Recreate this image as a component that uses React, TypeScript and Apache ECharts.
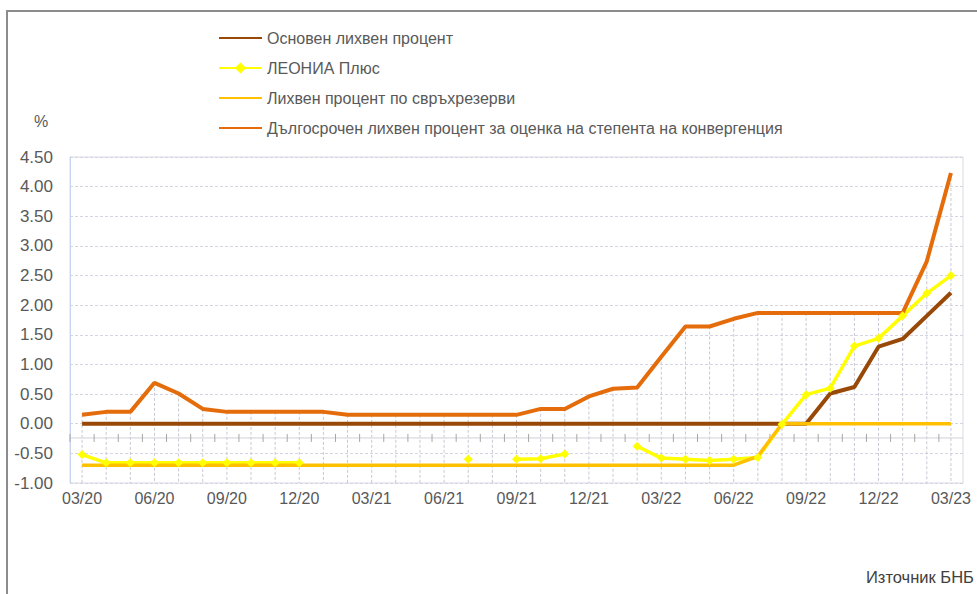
import React, { useEffect, useRef } from 'react';
import * as echarts from 'echarts';

const categories = [
  '03/20', '04/20', '05/20', '06/20', '07/20', '08/20', '09/20', '10/20', '11/20', '12/20',
  '01/21', '02/21', '03/21', '04/21', '05/21', '06/21', '07/21', '08/21', '09/21', '10/21', '11/21', '12/21',
  '01/22', '02/22', '03/22', '04/22', '05/22', '06/22', '07/22', '08/22', '09/22', '10/22', '11/22', '12/22',
  '01/23', '02/23', '03/23',
];

const baseRate = [
  0, 0, 0, 0, 0, 0, 0, 0, 0, 0,
  0, 0, 0, 0, 0, 0, 0, 0, 0, 0, 0, 0,
  0, 0, 0, 0, 0, 0, 0, 0, 0, 0.51, 0.62, 1.30,
  1.43, 1.82, 2.21,
];

const leoniaPlus = [
  -0.52, -0.66, -0.66, -0.66, -0.66, -0.66, -0.66, -0.66, -0.66, -0.66,
  null, null, null, null, null, null, -0.60, null, -0.60, -0.59, -0.51, null,
  null, -0.38, -0.58, -0.60, -0.62, -0.60, -0.57, -0.01, 0.49, 0.60, 1.31, 1.44,
  1.82, 2.20, 2.50,
];

const excessReserves = [
  -0.70, -0.70, -0.70, -0.70, -0.70, -0.70, -0.70, -0.70, -0.70, -0.70,
  -0.70, -0.70, -0.70, -0.70, -0.70, -0.70, -0.70, -0.70, -0.70, -0.70, -0.70, -0.70,
  -0.70, -0.70, -0.70, -0.70, -0.70, -0.70, -0.55, 0, 0, 0, 0, 0,
  0, 0, 0,
];

const longTermRate = [
  0.15, 0.20, 0.20, 0.69, 0.51, 0.25, 0.20, 0.20, 0.20, 0.20,
  0.20, 0.15, 0.15, 0.15, 0.15, 0.15, 0.15, 0.15, 0.15, 0.25, 0.25, 0.46,
  0.59, 0.61, 1.13, 1.64, 1.64, 1.77, 1.87, 1.87, 1.87, 1.87, 1.87, 1.87,
  1.87, 2.74, 4.23,
];

const seriesNames = [
  'Основен лихвен процент',
  'ЛЕОНИА Плюс',
  'Лихвен процент по свръхрезерви',
  'Дългосрочен лихвен процент за оценка на степента на конвергенция',
];

const yMin = -1;
const yMax = 4.5;
const yStep = 0.5;
// value at which the category axis line crosses the value axis
const axisCross = -0.24;

const FONT = '"Liberation Sans", Arial, sans-serif';

export default function App() {
  const ref = useRef<HTMLDivElement>(null);

  useEffect(() => {
    if (!ref.current) return;
    const chart = echarts.init(ref.current, undefined, { renderer: 'svg' });

    const dropData = categories.map((_, i) => {
      const vals = [baseRate[i], leoniaPlus[i], excessReserves[i], longTermRate[i]].filter(
        (v) => v !== null && v !== undefined
      ) as number[];
      return [i, Math.max(...vals)];
    });
    const axisData = categories.map((_, i) => [i, axisCross]);

    const option: any = {
      animation: false,
      backgroundColor: '#ffffff',
      textStyle: { fontFamily: FONT },
      grid: {
        left: 70,
        right: 14,
        top: 157,
        bottom: 111,
        show: true,
        borderColor: '#D9D9E3',
        borderWidth: 1,
      },
      legend: {
        orient: 'vertical',
        left: 213,
        top: 25,
        itemWidth: 43,
        itemHeight: 14,
        itemGap: 14,
        data: seriesNames.map((n, i) =>
          i === 1 ? { name: n } : { name: n, itemStyle: { opacity: 0 } }
        ),
        textStyle: { fontSize: 16, color: '#595959', fontFamily: FONT },
      },
      xAxis: {
        type: 'category',
        data: categories,
        boundaryGap: true,
        axisLine: { show: false },
        axisTick: { show: false },
        splitLine: { show: false },
        axisLabel: {
          interval: 2,
          fontSize: 16,
          color: '#595959',
          margin: 7,
          fontFamily: FONT,
        },
      },
      yAxis: {
        type: 'value',
        min: yMin,
        max: yMax,
        interval: yStep,
        axisLine: { show: true, lineStyle: { color: '#C9D5EE', width: 1 } },
        axisTick: { show: false },
        axisLabel: {
          fontSize: 17,
          color: '#595959',
          margin: 17,
          fontFamily: FONT,
          formatter: (v: number) => v.toFixed(2),
        },
        splitLine: { show: true, lineStyle: { color: '#D4D4E4', type: [3, 2], width: 1 } },
      },
      graphic: [
        {
          type: 'rect',
          shape: { x: 7, y: 11, width: 1100, height: 700 },
          style: { fill: 'none', stroke: '#8C8C8C', lineWidth: 2 },
          silent: true,
        },
        {
          type: 'text',
          left: 34,
          top: 113,
          style: { text: '%', fontSize: 16, fill: '#595959', fontFamily: FONT },
        },
        {
          type: 'text',
          left: 866,
          top: 568,
          style: { text: 'Източник БНБ', fontSize: 16.5, fill: '#404040', fontFamily: FONT },
        },
      ],
      series: [
        {
          type: 'custom',
          name: 'drop',
          silent: true,
          z: 1,
          data: dropData,
          encode: { x: 0, y: 1 },
          renderItem: (_params: any, api: any) => {
            const top = api.coord([api.value(0), api.value(1)]);
            const bottom = api.coord([api.value(0), yMin]);
            return {
              type: 'line',
              shape: { x1: top[0], y1: top[1], x2: bottom[0], y2: bottom[1] },
              style: { stroke: '#C8C8D4', lineWidth: 1, lineDash: [3, 2] },
            };
          },
        },
        {
          type: 'custom',
          name: 'axis',
          silent: true,
          z: 1,
          data: axisData,
          encode: { x: 0, y: 1 },
          renderItem: (_params: any, api: any) => {
            const c = api.coord([api.value(0), api.value(1)]);
            const w = api.size([1, 0])[0];
            const x0 = c[0] - w / 2;
            return {
              type: 'group',
              children: [
                {
                  type: 'line',
                  shape: { x1: x0, y1: c[1], x2: x0 + w, y2: c[1] },
                  style: { stroke: '#D0D0D8', lineWidth: 1 },
                },
                {
                  type: 'line',
                  shape: { x1: x0, y1: c[1] - 4, x2: x0, y2: c[1] + 4 },
                  style: { stroke: '#A6A6A6', lineWidth: 1 },
                },
              ],
            };
          },
        },
        {
          type: 'line',
          name: seriesNames[0],
          data: baseRate,
          symbol: 'none',
          z: 3,
          lineStyle: { color: '#984807', width: 4 },
          itemStyle: { color: '#984807' },
        },
        {
          type: 'line',
          name: seriesNames[1],
          data: leoniaPlus,
          symbol: 'diamond',
          symbolSize: 9,
          showSymbol: true,
          showAllSymbol: true,
          connectNulls: false,
          z: 3,
          lineStyle: { color: '#FFFF00', width: 3.5 },
          itemStyle: { color: '#FFFF00' },
        },
        {
          type: 'line',
          name: seriesNames[2],
          data: excessReserves,
          symbol: 'none',
          z: 3,
          lineStyle: { color: '#FFC000', width: 3.5 },
          itemStyle: { color: '#FFC000' },
        },
        {
          type: 'line',
          name: seriesNames[3],
          data: longTermRate,
          symbol: 'none',
          z: 3,
          lineStyle: { color: '#E46C0A', width: 4 },
          itemStyle: { color: '#E46C0A' },
        },
      ],
    };

    chart.setOption(option);
    return () => chart.dispose();
  }, []);

  return (
    <div
      ref={ref}
      style={{ position: 'absolute', left: 0, top: 0, width: 977, height: 594, background: '#fff' }}
    />
  );
}
